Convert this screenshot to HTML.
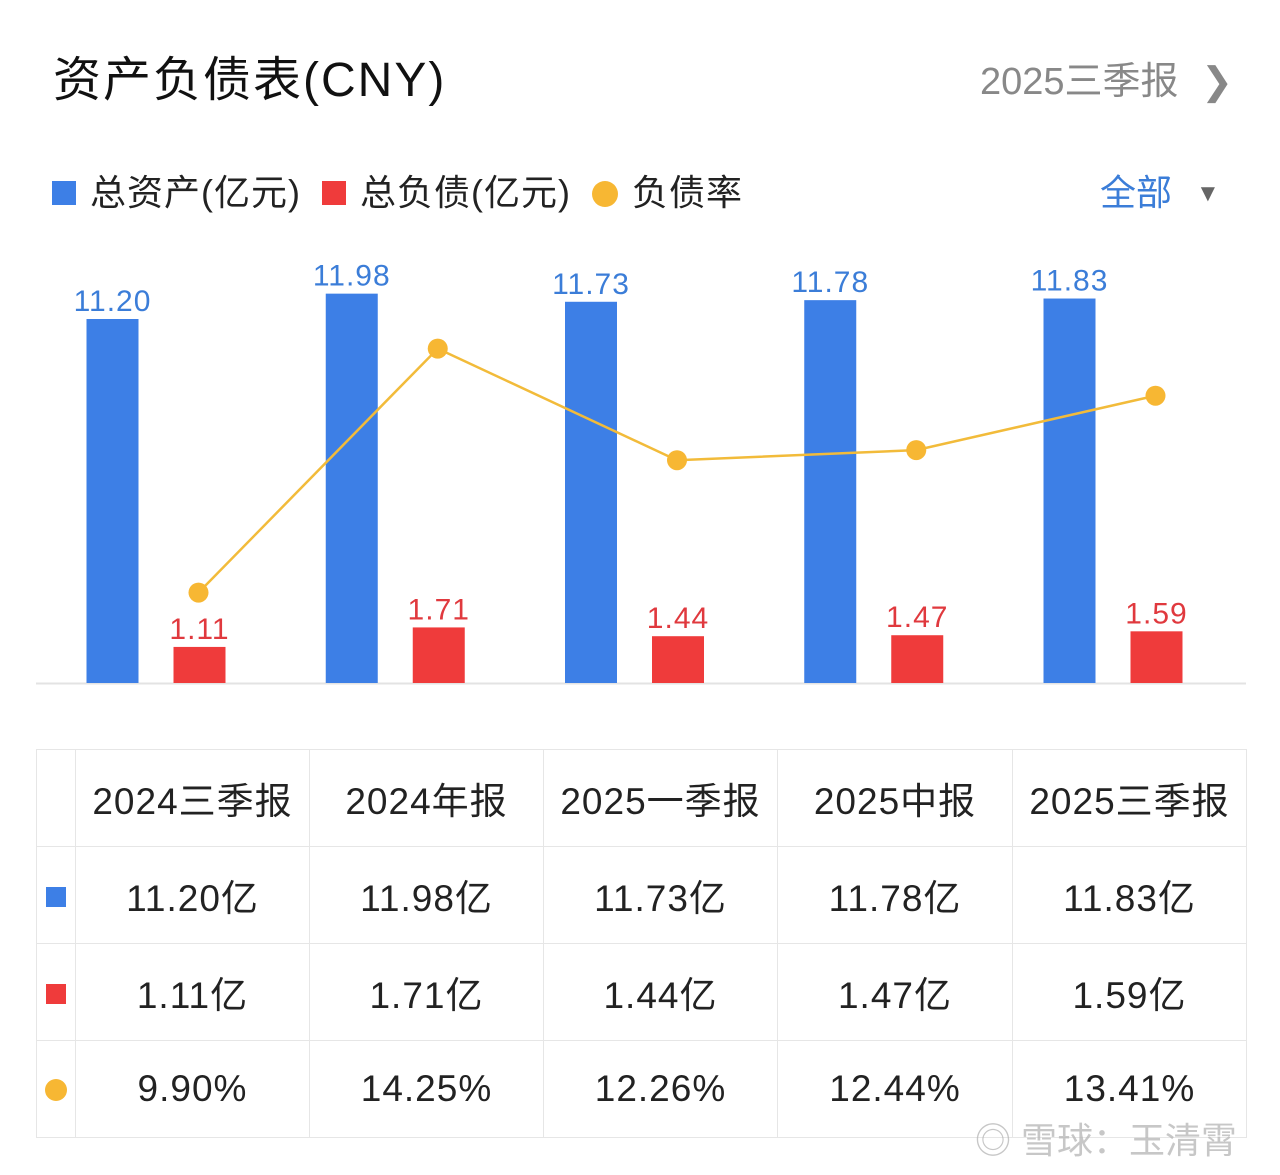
<!DOCTYPE html>
<html><head><meta charset="utf-8">
<style>
body{margin:0;width:1280px;height:1175px;background:#fff;font-family:"Liberation Sans","Noto Sans CJK SC",sans-serif;overflow:hidden;position:relative}
.abs{position:absolute}
table{position:absolute;left:36px;top:749px;border-collapse:collapse;width:1210px;table-layout:fixed}
td{border:1px solid #e6e6e6;height:96px;text-align:center;font-size:37px;color:#222;padding:0;letter-spacing:1px}
td.ic{width:38px}
</style></head><body>
<div class="abs" style="left:53px;top:40px;font-size:48px;color:#111;letter-spacing:2px">资产负债表(CNY)</div>
<div class="abs" style="left:980px;top:50px;font-size:38px;color:#888;">2025三季报 <span style="margin-left:12px">&#x276F;</span></div>
<div class="abs" style="left:52px;top:164px;font-size:36px;color:#222;white-space:nowrap;letter-spacing:1px">
<span><span style="display:inline-block;width:24px;height:24px;background:#3d7fe6;margin-right:14px"></span>总资产(亿元)</span>
<span style="margin-left:10px"><span style="display:inline-block;width:24px;height:24px;background:#ef3b3b;margin-right:14px"></span>总负债(亿元)</span>
<span style="margin-left:10px"><span style="display:inline-block;width:26px;height:26px;border-radius:50%;background:#f7b733;margin-right:14px;vertical-align:-2px"></span>负债率</span>
</div>
<div class="abs" style="left:1100px;top:164px;font-size:36px;color:#3b7dd8;">全部 <span style="font-size:24px;color:#666;margin-left:14px;vertical-align:4px">▼</span></div>
<svg class="abs" style="left:0;top:0" width="1280" height="720">
<line x1="36" y1="683.5" x2="1246" y2="683.5" stroke="#e3e3e3" stroke-width="2"/>
<g id="bars"></g><g id="line"></g>
</svg>
<table>
<colgroup><col style="width:39px"><col style="width:234px"><col style="width:234px"><col style="width:234px"><col style="width:235px"><col style="width:234px"></colgroup>
<tr><td class="ic"></td><td>2024三季报</td><td>2024年报</td><td>2025一季报</td><td>2025中报</td><td>2025三季报</td></tr>
<tr><td class="ic"><span style="display:inline-block;width:20px;height:20px;background:#3d7fe6"></span></td><td>11.20亿</td><td>11.98亿</td><td>11.73亿</td><td>11.78亿</td><td>11.83亿</td></tr>
<tr><td class="ic"><span style="display:inline-block;width:20px;height:20px;background:#ef3b3b"></span></td><td>1.11亿</td><td>1.71亿</td><td>1.44亿</td><td>1.47亿</td><td>1.59亿</td></tr>
<tr><td class="ic"><span style="display:inline-block;width:22px;height:22px;border-radius:50%;background:#f7b733"></span></td><td>9.90%</td><td>14.25%</td><td>12.26%</td><td>12.44%</td><td>13.41%</td></tr>
</table>
<div class="abs" style="left:975px;top:1112px;font-size:36px;color:rgba(180,180,180,0.75)">◎ 雪球：玉清霄</div>
<script>
const categories=["2024三季报","2024年报","2025一季报","2025中报","2025三季报"];
const assets=[11.20,11.98,11.73,11.78,11.83];
const liabilities=[1.11,1.71,1.44,1.47,1.59];
const ratio=[9.90,14.25,12.26,12.44,13.41];
const NS="http://www.w3.org/2000/svg";
const x0=155.5,step=239.25,base=683,scale=32.5;
const xc=i=>x0+i*step;
const yb=v=>base-v*scale;
const yr=v=>1148-v*56.1;
const bars=document.getElementById('bars'),lg=document.getElementById('line');
function mk(t,a,p){const e=document.createElementNS(NS,t);for(const k in a)e.setAttribute(k,a[k]);p.appendChild(e);return e;}
categories.forEach((c,i)=>{
 const b=mk('rect',{x:xc(i)-69,y:yb(assets[i]),width:52,height:base-yb(assets[i]),fill:'#3d7fe6'},bars);
 
 
 const r=mk('rect',{x:xc(i)+18,y:yb(liabilities[i]),width:52,height:base-yb(liabilities[i]),fill:'#ef3b3b'},bars);
 
 
 const t1=mk('text',{x:xc(i)-43,y:yb(assets[i])-8,'text-anchor':'middle','font-size':30,fill:'#3b7dd8','letter-spacing':1},bars);
 t1.textContent=assets[i].toFixed(2);
 
 
 const t2=mk('text',{x:xc(i)+44,y:yb(liabilities[i])-8,'text-anchor':'middle','font-size':30,fill:'#e0393e','letter-spacing':1},bars);
 t2.textContent=liabilities[i].toFixed(2);
 
 
});
const pts=ratio.map((v,i)=>(xc(i)+43)+','+yr(v)).join(' ');
const pl=mk('polyline',{points:pts,fill:'none',stroke:'#f2bb3a','stroke-width':2.5},lg);


ratio.forEach((v,i)=>{
 const c=mk('circle',{cx:xc(i)+43,cy:yr(v),r:10,fill:'#f7b733'},lg);
 
 
});
</script>
</body></html>
